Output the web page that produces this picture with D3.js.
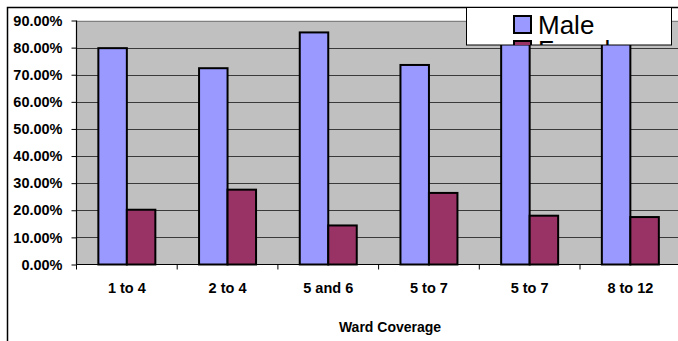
<!DOCTYPE html>
<html>
<head>
<meta charset="utf-8">
<script src="https://cdn.jsdelivr.net/npm/d3@7"></script>
<style>
  html, body { margin: 0; padding: 0; background: #fff; }
  svg { display: block; font-family: "Liberation Sans", Arial, sans-serif; }
</style>
</head>
<body>
<svg id="chart" width="678" height="341"></svg>
<script>
// Share of male and female members by ward coverage
const categories = ["1 to 4", "2 to 4", "5 and 6", "5 to 7", "5 to 7", "8 to 12"];
const seriesNames = ["Male", "Female"];
const maleValues = [0.798, 0.724, 0.856, 0.736, 0.820, 0.825];
const femaleValues = [0.202, 0.276, 0.144, 0.264, 0.180, 0.175];
const yTicks = [0, 0.1, 0.2, 0.3, 0.4, 0.5, 0.6, 0.7, 0.8, 0.9];
const xTitle = "Ward Coverage";

const colors = { Male: "#9999FF", Female: "#993366" };

const svg = d3.select("#chart");
const W = 678, H = 341;

// Chart area border (runs off the right and bottom edges)
svg.append("rect")
  .attr("x", 7.5).attr("y", 7.5)
  .attr("width", W + 20).attr("height", H + 20)
  .attr("fill", "#fff").attr("stroke", "#000").attr("stroke-width", 1.5);

const plot = { left: 76.5, top: 20.5, bottom: 264.5 };
const step = 100.7;
const plotRight = plot.left + step * categories.length;

const x = d3.scaleBand()
  .domain(d3.range(categories.length))
  .range([plot.left, plotRight])
  .paddingInner(0).paddingOuter(0);

const xs = d3.scaleBand()
  .domain(seriesNames)
  .range([0, x.bandwidth()])
  .paddingInner(0).paddingOuter(0.767);

const y = d3.scaleLinear().domain([0, 0.9]).range([plot.bottom, plot.top]);

// Plot area background
svg.append("rect")
  .attr("x", plot.left).attr("y", plot.top)
  .attr("width", plotRight - plot.left).attr("height", plot.bottom - plot.top)
  .attr("fill", "#C0C0C0");

// Horizontal gridlines
svg.append("g")
  .selectAll("line")
  .data(yTicks.filter(t => t > 0))
  .join("line")
  .attr("x1", plot.left).attr("x2", plotRight)
  .attr("y1", d => Math.round(y(d)) + 0.5).attr("y2", d => Math.round(y(d)) + 0.5)
  .attr("stroke", d => d === 0.9 ? "#808080" : "#3a3a3a")
  .attr("stroke-width", 1);

// Bars
const rows = categories.map((c, i) => ({ i, Male: maleValues[i], Female: femaleValues[i] }));
const groups = svg.append("g")
  .selectAll("g")
  .data(rows)
  .join("g")
  .attr("transform", d => `translate(${x(d.i)},0)`);

groups.selectAll("rect")
  .data(d => seriesNames.map(k => ({ key: k, value: d[k] })))
  .join("rect")
  .attr("x", d => xs(d.key))
  .attr("y", d => y(d.value))
  .attr("width", xs.bandwidth())
  .attr("height", d => plot.bottom - y(d.value))
  .attr("fill", d => colors[d.key])
  .attr("stroke", "#000")
  .attr("stroke-width", 2);

// Y axis
const yAxis = d3.axisLeft(y)
  .tickValues(yTicks)
  .tickFormat(d3.format(".2%"))
  .tickSize(5)
  .tickPadding(9);
const gy = svg.append("g")
  .attr("transform", `translate(${plot.left},0)`)
  .call(yAxis);
gy.select(".domain").attr("stroke", "#000").attr("stroke-width", 1.2)
  .attr("d", `M0,${plot.top}V${plot.bottom}`);
gy.selectAll(".tick line").attr("stroke", "#000");
gy.selectAll(".tick text")
  .attr("font-family", "'Liberation Sans', Arial, sans-serif")
  .attr("font-size", 14.5).attr("font-weight", "bold").attr("fill", "#000");

// X axis: ticks at category boundaries
const gx = svg.append("g");
gx.append("line")
  .attr("x1", plot.left).attr("x2", plotRight)
  .attr("y1", plot.bottom).attr("y2", plot.bottom)
  .attr("stroke", "#000").attr("stroke-width", 1.2);
gx.selectAll("line.tk")
  .data(d3.range(categories.length + 1))
  .join("line")
  .attr("class", "tk")
  .attr("x1", i => plot.left + i * x.step()).attr("x2", i => plot.left + i * x.step())
  .attr("y1", plot.bottom).attr("y2", plot.bottom + 5)
  .attr("stroke", "#000");
gx.selectAll("text")
  .data(categories)
  .join("text")
  .attr("x", (c, i) => x(i) + x.bandwidth() / 2)
  .attr("y", 292.5)
  .attr("text-anchor", "middle")
  .attr("font-size", 14.5).attr("font-weight", "bold")
  .text(d => d);

// Axis title
svg.append("text")
  .attr("x", 390).attr("y", 331.5)
  .attr("text-anchor", "middle")
  .attr("font-size", 14).attr("font-weight", "bold")
  .text(xTitle);

// Legend (box clips its second entry)
const lg = { x: 466.5, y: 7.5, w: 205, h: 37.5 };
svg.append("clipPath").attr("id", "legend-clip")
  .append("rect").attr("x", lg.x).attr("y", lg.y).attr("width", lg.w).attr("height", lg.h);
svg.append("rect")
  .attr("x", lg.x).attr("y", lg.y).attr("width", lg.w).attr("height", lg.h)
  .attr("fill", "#fff").attr("stroke", "#000").attr("stroke-width", 1);
const legendItems = svg.append("g").attr("clip-path", "url(#legend-clip)")
  .selectAll("g")
  .data(seriesNames)
  .join("g")
  .attr("transform", (d, i) => `translate(514,${16 + i * 25})`);
legendItems.append("rect")
  .attr("x", 0).attr("y", 0).attr("width", 17).attr("height", 17)
  .attr("fill", d => colors[d]).attr("stroke", "#000").attr("stroke-width", 2);
legendItems.append("text")
  .attr("x", 24).attr("y", 17.5)
  .attr("font-size", 26)
  .text(d => d);
</script>
</body>
</html>
